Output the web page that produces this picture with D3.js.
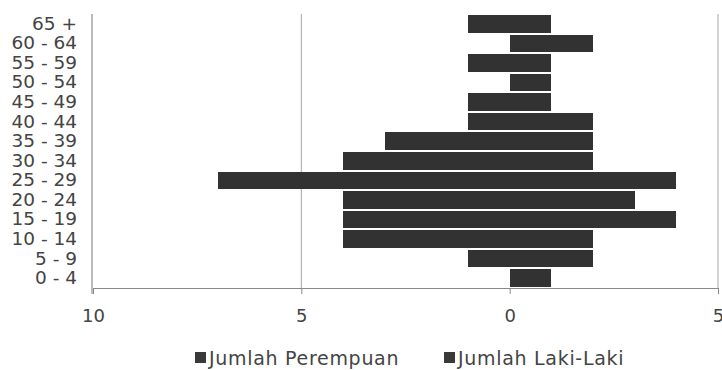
<!DOCTYPE html>
<html><head><meta charset="utf-8">
<script src="https://cdn.jsdelivr.net/npm/d3@7/dist/d3.min.js"></script>
<style>body{margin:0;background:#fff}svg{display:block}</style>
</head><body>
<script>
const categories = ["0 - 4","5 - 9","10 - 14","15 - 19","20 - 24","25 - 29","30 - 34","35 - 39","40 - 44","45 - 49","50 - 54","55 - 59","60 - 64","65 +"];
const perempuan = [0,1,4,4,4,7,4,3,1,1,0,1,0,1];
const lakilaki  = [1,2,2,4,3,4,2,2,2,1,1,1,2,1];
const xTicks = [-10,-5,0,5];
const seriesNames = ["Jumlah Perempuan","Jumlah Laki-Laki"];

const W=722,H=370;
const m={left:93,right:4,top:14,bottom:82};
const svg=d3.select("body").append("svg").attr("width",W).attr("height",H);
const x=d3.scaleLinear().domain([-10,5]).range([m.left,m.left+625]);
const y=d3.scaleBand().domain(categories.slice().reverse()).range([m.top,H-m.bottom]).paddingInner(0.1).paddingOuter(0.05);
const font="DejaVu Sans";
const barColor="#323232";

// gridlines
svg.append("g").selectAll("line").data([-5,5]).join("line")
  .attr("x1",d=>x(d)).attr("x2",d=>x(d)).attr("y1",m.top).attr("y2",H-m.bottom)
  .attr("stroke","#a8a8a8").attr("stroke-width",1);

// bars
const rows=categories.map((c,i)=>({c,f:perempuan[i],l:lakilaki[i]}));
const gb=svg.append("g").attr("shape-rendering","crispEdges");
gb.append("g").selectAll("rect").data(rows).join("rect")
  .attr("x",d=>x(-d.f)).attr("width",d=>x(0)-x(-d.f))
  .attr("y",d=>y(d.c)).attr("height",y.bandwidth()).attr("fill",barColor);
gb.append("g").selectAll("rect").data(rows).join("rect")
  .attr("x",x(0)).attr("width",d=>x(d.l)-x(0))
  .attr("y",d=>y(d.c)).attr("height",y.bandwidth()).attr("fill",barColor);

// x axis
const xAxis=d3.axisBottom(x).tickValues(xTicks).tickFormat(d=>Math.abs(d)).tickSize(6).tickPadding(15);
const gx=svg.append("g").attr("transform",`translate(0,${H-m.bottom})`).call(xAxis);
gx.select(".domain").attr("stroke","#8a8a8a");
gx.selectAll(".tick line").attr("stroke","#8a8a8a");
gx.selectAll("text").attr("font-family",font).attr("font-size",18).attr("fill","#444");

// y axis
const yAxis=d3.axisLeft(y).tickSize(0).tickPadding(15);
const gy=svg.append("g").attr("transform",`translate(${m.left-1},0)`).call(yAxis);
gy.select(".domain").attr("stroke","#777").attr("d",`M0,${m.top}V${H-m.bottom+6}`);
gy.selectAll("text").attr("font-family",font).attr("font-size",18.5).attr("fill","#444");

// legend
const leg=svg.append("g").attr("font-family",font).attr("font-size",19).attr("fill","#444");
const legX=[195,444];
seriesNames.forEach((n,i)=>{
  leg.append("rect").attr("x",legX[i]).attr("y",352).attr("width",11).attr("height",11).attr("fill","#3a3a3a");
  leg.append("text").attr("x",legX[i]+14).attr("y",365).attr("letter-spacing",0.7).text(n);
});
</script>
</body></html>
